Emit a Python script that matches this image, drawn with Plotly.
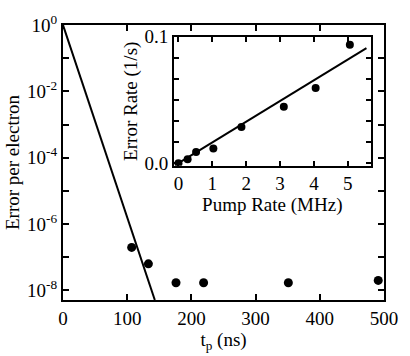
import plotly.graph_objects as go

# Main panel: error per electron versus pulse time
tp_ns = [107, 133, 176, 219, 351, 491]
err_per_electron = [1.97e-7, 6.3e-8, 1.7e-8, 1.7e-8, 1.7e-8, 2.0e-8]
fit_tp = [0, 143]
fit_err = [1.0, 10 ** -8.29]

# Inset: error rate versus pump rate
pump_mhz = [0.0, 0.27, 0.52, 1.03, 1.86, 3.11, 4.05, 5.06]
err_rate = [0.0, 0.003, 0.0088, 0.0116, 0.0287, 0.0446, 0.0595, 0.0937]
fit_pump = [0.0, 5.55]
fit_rate = [0.0, 0.091]

decades = list(range(0, -9, -1))
decade_text = [f"10<sup>{d}</sup>" if d % 2 == 0 else "" for d in decades]
inset_ticks = [i / 60 for i in range(7)]
inset_ticktext = ["0.0", "", "", "", "", "", "0.1"]

FONT = "Liberation Serif, Times New Roman, serif"
TICK = 19
TITLE = 19

fig = go.Figure()
fig.add_trace(go.Scatter(x=fit_tp, y=fit_err, mode="lines",
                         line=dict(color="black", width=2), showlegend=False))
fig.add_trace(go.Scatter(x=tp_ns, y=err_per_electron, mode="markers",
                         marker=dict(color="black", size=9), showlegend=False))
fig.add_trace(go.Scatter(x=fit_pump, y=fit_rate, mode="lines", xaxis="x2", yaxis="y2",
                         line=dict(color="black", width=2), showlegend=False))
fig.add_trace(go.Scatter(x=pump_mhz, y=err_rate, mode="markers", xaxis="x2", yaxis="y2",
                         marker=dict(color="black", size=8), showlegend=False))

axis_common = dict(showline=True, linecolor="black", linewidth=2, mirror="ticks",
                   ticks="inside", tickcolor="black", tickwidth=2, showgrid=False,
                   zeroline=False, tickfont=dict(family=FONT, size=TICK, color="black"))

fig.update_layout(
    width=410, height=356,
    margin=dict(l=63, r=17, t=23, b=45),
    paper_bgcolor="white", plot_bgcolor="white",
    font=dict(family=FONT, color="black"),
    xaxis=dict(axis_common, range=[0, 500], tickvals=[0, 100, 200, 300, 400, 500],
               ticklen=6,
               title=dict(text="t<sub>p</sub> (ns)", font=dict(family=FONT, size=TITLE), standoff=2)),
    yaxis=dict(axis_common, type="log", range=[-8.29, 0], tickvals=[10.0 ** d for d in decades],
               ticktext=decade_text, ticklen=6,
               title=dict(text="Error per electron", font=dict(family=FONT, size=TITLE), standoff=2)),
    xaxis2=dict(axis_common, domain=[0.346, 0.958], anchor="y2", range=[-0.13, 5.67],
                tickvals=[0, 1, 2, 3, 4, 5], ticklen=5,
                title=dict(text="Pump Rate (MHz)", font=dict(family=FONT, size=TITLE), standoff=0)),
    yaxis2=dict(axis_common, domain=[0.4885, 0.957], anchor="x2", range=[-0.002, 0.1],
                tickvals=inset_ticks, ticktext=inset_ticktext, ticklen=5,
                title=dict(text="Error Rate (1/s)", font=dict(family=FONT, size=TITLE), standoff=2)),
)

fig.write_html("out.html")
